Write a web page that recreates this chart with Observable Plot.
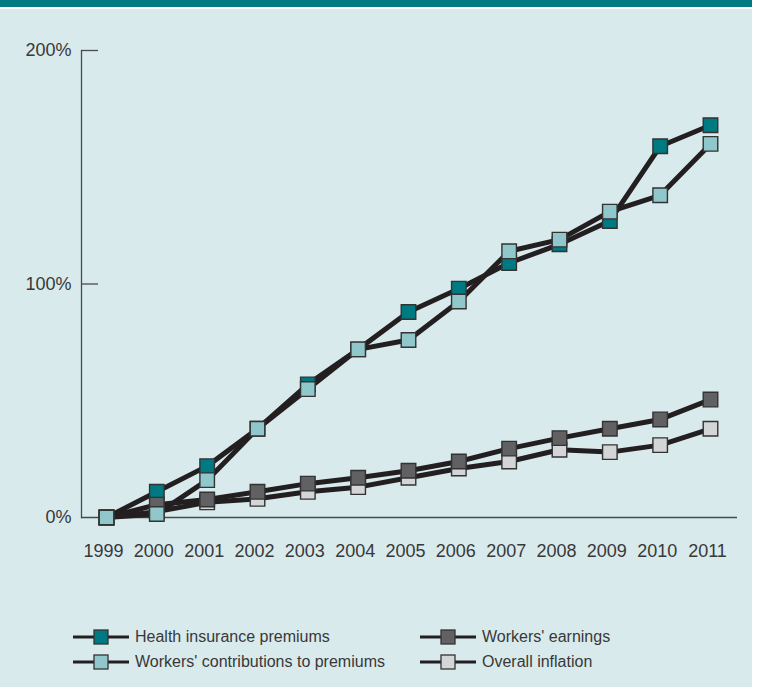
<!DOCTYPE html>
<html>
<head>
<meta charset="utf-8">
<script src="https://cdn.jsdelivr.net/npm/d3@7"></script>
<script src="https://cdn.jsdelivr.net/npm/@observablehq/plot@0.6"></script>
<style>
  body { margin: 0; background: #ffffff; }
  #wrap { position: relative; width: 758px; height: 687px; background: #ffffff; overflow: hidden;
          font-family: "Liberation Sans", Arial, sans-serif; color: #383838; }
  #band { position: absolute; left: 0; top: 0; width: 752px; height: 7px; background: #007a82; }
  #panel { position: absolute; left: 0; top: 9px; width: 752px; height: 678px; background: #d9eaec; }
  #chart { position: absolute; left: 0; top: 0; }
  #chart svg text { font-size: 18px !important; font-family: "Liberation Sans", Arial, sans-serif; }
  .leg { position: absolute; display: flex; align-items: center; font-size: 16px; white-space: nowrap; }
  .leg svg { margin-right: 6px; }
</style>
</head>
<body>
<div id="wrap">
  <div id="band"></div>
  <div id="panel"></div>
  <div id="chart"></div>
  <div id="legend"></div>
</div>
<script>
// ---- data (percent change since 1999) ----
const years = [1999, 2000, 2001, 2002, 2003, 2004, 2005, 2006, 2007, 2008, 2009, 2010, 2011];
const healthPremiums      = [0, 11, 22, 38, 57, 72, 88, 98, 109, 117, 127, 159, 168];
const workerContributions = [0, 1.5, 16, 38, 55, 72, 76, 92.5, 114, 119, 131, 138, 160];
const workersEarnings     = [0, 5.5, 7.7, 11, 14.5, 17, 20, 24, 29.5, 34, 38, 42, 50.5];
const overallInflation    = [0, 2.5, 6.5, 8, 11, 13, 17, 21, 24, 29, 28, 31, 38];
const seriesNames = ["Health insurance premiums", "Workers' contributions to premiums", "Workers' earnings", "Overall inflation"];
const seriesColors = ["#007a82", "#8fc7ca", "#616163", "#d4d5d7"];
const yTicks = [0, 100, 200];
const yTickLabels = ["0%", "100%", "200%"];

const seriesValues = [healthPremiums, workerContributions, workersEarnings, overallInflation];
const table = [];
seriesValues.forEach((vals, si) => vals.forEach((v, i) => table.push({series: seriesNames[si], year: years[i], value: v})));
// marker drawing order: premiums, inflation, earnings, contributions on top
const markerOrder = [seriesNames[0], seriesNames[3], seriesNames[2], seriesNames[1]];
const markerData = markerOrder.flatMap(s => table.filter(d => d.series === s));

const chart = Plot.plot({
  width: 758,
  height: 600,
  marginTop: 50,
  marginBottom: 83,
  marginLeft: 81,
  marginRight: 21,
  style: {background: "transparent", fontFamily: "'Liberation Sans', Arial, sans-serif", fontSize: "18px", color: "#383838"},
  x: {domain: [1999, 2011], insetLeft: 25, insetRight: 27},
  y: {domain: [0, 200]},
  color: {domain: seriesNames, range: seriesColors},
  marks: [
    Plot.frame({anchor: "left", stroke: "#4a4a4a", strokeWidth: 1.3}),
    Plot.ruleY([0], {stroke: "#4a4a4a", strokeWidth: 1.3}),
    Plot.axisY({anchor: "right", frameAnchor: "left", ticks: yTicks.filter(t => t > 0), tickSize: 16, text: null, label: null, stroke: "#4a4a4a", strokeWidth: 1.3}),
    Plot.axisY({anchor: "left", ticks: yTicks, tickSize: 0, tickPadding: 10, tickFormat: t => yTickLabels[yTicks.indexOf(t)], fill: "#383838", fontSize: 18, label: null}),
    Plot.axisX({ticks: years, tickSize: 0, tickPadding: 27, dx: -3, tickFormat: d => String(d), fill: "#383838", fontSize: 18, label: null}),
    Plot.line(table, {x: "year", y: "value", z: "series", stroke: "#231f20", strokeWidth: 5, strokeLinejoin: "round"}),
    Plot.dot(markerData, {x: "year", y: "value", fill: "series", symbol: "square", r: 8.2, stroke: "#333333", strokeWidth: 1.4})
  ]
});
document.getElementById("chart").appendChild(chart);

// ---- legend ----
const legend = document.getElementById("legend");
const legendPos = [[73, 627], [73, 652], [420, 627], [420, 652]];
const legendOrder = [0, 1, 2, 3];
legendOrder.forEach((si, k) => {
  const item = document.createElement("div");
  item.className = "leg";
  item.style.left = legendPos[k][0] + "px";
  item.style.top = legendPos[k][1] + "px";
  item.innerHTML = `<svg width="56" height="20"><line x1="0" x2="56" y1="10" y2="10" stroke="#231f20" stroke-width="3"/>` +
    `<rect x="21" y="3" width="14" height="14" fill="${seriesColors[si]}" stroke="#333" stroke-width="1.3"/></svg>` +
    `<span>${seriesNames[si]}</span>`;
  legend.appendChild(item);
});
</script>
</body>
</html>
